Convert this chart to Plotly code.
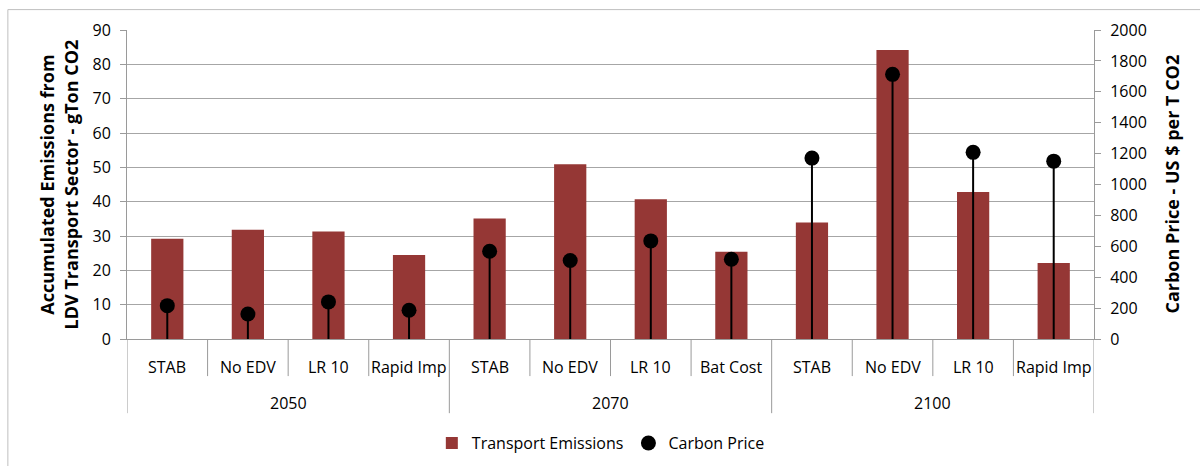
import plotly.graph_objects as go

# Scenario results: accumulated LDV transport emissions and carbon price
years = ["2050", "2050", "2050", "2050",
         "2070", "2070", "2070", "2070",
         "2100", "2100", "2100", "2100"]
scenarios = ["STAB", "No EDV", "LR 10", "Rapid Imp",
             "STAB", "No EDV", "LR 10", "Bat Cost",
             "STAB", "No EDV", "LR 10", "Rapid Imp"]
emissions = [29.2, 31.8, 31.3, 24.5,
             35.1, 50.9, 40.7, 25.4,
             33.9, 84.2, 42.8, 22.1]
carbon_price = [216, 162, 240, 186,
                568, 508, 635, 516,
                1171, 1713, 1208, 1151]

FONT = "Open Sans"
GRID = "#a6a6a6"
AXIS = "#9a9a9a"
BAR = "#953735"
TXT = dict(family=FONT, size=16, color="black")
TITLE = dict(family=FONT, size=18, color="black")

idx = list(range(len(scenarios)))
n = len(scenarios)

fig = go.Figure()
fig.add_trace(go.Bar(
    x=idx, y=emissions, name="Transport Emissions",
    marker=dict(color=BAR, line=dict(width=0)), width=0.4,
))
fig.add_trace(go.Scatter(
    x=idx, y=carbon_price, name="Carbon Price", yaxis="y2",
    mode="markers",
    marker=dict(color="black", size=15, symbol="circle"),
    error_y=dict(type="data", symmetric=False, array=[0] * n,
                 arrayminus=carbon_price, color="black", thickness=2, width=0),
))

# Two-level category axis: scenario labels, then year groups
shapes = []
annotations = []
for i in range(n + 1):
    b = i - 0.5
    is_group = i == 0 or i == n or years[i] != years[i - 1]
    depth = -0.24 if is_group else -0.12
    shapes.append(dict(type="line", xref="x", yref="paper",
                       x0=b, x1=b, y0=0, y1=depth,
                       line=dict(color=AXIS, width=1)))
for i, s in enumerate(scenarios):
    annotations.append(dict(x=i, y=-0.09, xref="x", yref="paper", text=s,
                            showarrow=False, yanchor="middle", font=TXT))
groups = []
for i, y in enumerate(years):
    if not groups or groups[-1][0] != y:
        groups.append([y, i, i])
    else:
        groups[-1][2] = i
for y, a, b in groups:
    annotations.append(dict(x=(a + b) / 2, y=-0.208, xref="x", yref="paper",
                            text=y, showarrow=False, yanchor="middle", font=TXT))

# Outer chart frame
shapes.append(dict(type="rect", xref="paper", yref="paper",
                   x0=-0.1232, x1=1.2, y0=1.066, y1=-0.5,
                   line=dict(color="#bfbfbf", width=1), layer="below"))

# Axis titles
annotations.append(dict(x=-0.0704, y=0.5, xref="paper", yref="paper",
                        xanchor="center", yanchor="middle",
                        text="<b>Accumulated Emissions from<br>LDV Transport Sector - gTon CO2</b>",
                        textangle=-90, showarrow=False, font=TITLE))
annotations.append(dict(x=1.0797, y=0.5, xref="paper", yref="paper",
                        xanchor="center", yanchor="middle",
                        text="<b>Carbon Price - US $ per T CO2</b>",
                        textangle=-90, showarrow=False, font=TITLE))

fig.update_layout(
    width=1200, height=466,
    margin=dict(l=127, r=106, t=30, b=127, autoexpand=False),
    paper_bgcolor="white", plot_bgcolor="white",
    font=TXT,
    showlegend=True,
    legend=dict(orientation="h", x=0.49, xanchor="center", y=-0.337, yanchor="middle",
                font=TXT, itemwidth=30, traceorder="normal"),
    xaxis=dict(range=[-0.5, n - 0.5], showticklabels=False, showgrid=False,
               zeroline=False, showline=True, linecolor=AXIS, linewidth=1,
               ticks="", fixedrange=True),
    yaxis=dict(range=[0, 90], dtick=10, showgrid=True, gridcolor=GRID, gridwidth=1,
               zeroline=False, showline=True, linecolor=AXIS, linewidth=1,
               ticks="outside", ticklen=6, tickcolor=AXIS,
               ticklabelstandoff=6, tickfont=TXT),
    yaxis2=dict(range=[0, 2000], dtick=200, overlaying="y", side="right",
                showgrid=False, zeroline=False, showline=True, linecolor=AXIS,
                linewidth=1, ticks="outside", ticklen=6, tickcolor=AXIS,
                ticklabelstandoff=6, tickfont=TXT),
    shapes=shapes,
    annotations=annotations,
)

fig.write_html("out.html")
